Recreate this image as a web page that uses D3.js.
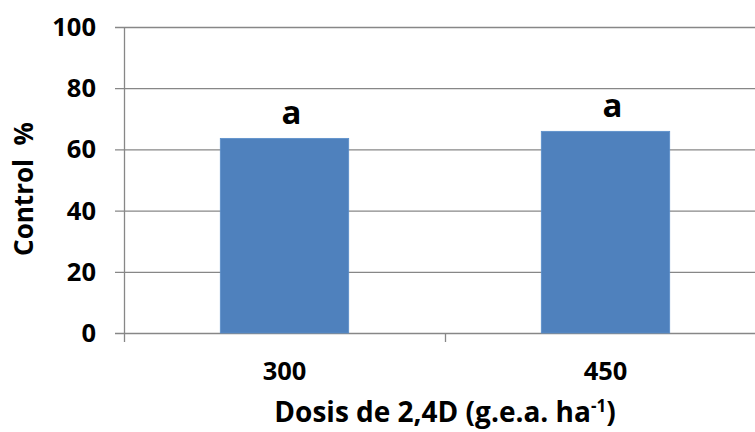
<!DOCTYPE html>
<html>
<head>
<meta charset="utf-8">
<script src="https://cdn.jsdelivr.net/npm/d3@7/dist/d3.min.js"></script>
<style>
  html, body { margin: 0; padding: 0; background: #fff; }
  svg { display: block; }
  text { font-family: "Open Sans", "Noto Sans", sans-serif; font-weight: 700; fill: #000; }
</style>
</head>
<body>
<svg id="chart" width="755" height="432"></svg>
<script>
const categories = ["300", "450"];
const values = [63.6, 65.9];
const letters = ["a", "a"];
const yTicks = [0, 20, 40, 60, 80, 100];
const yTitle = "Control  %";
const xTitleMain = "Dosis de 2,4D (g.e.a. ha";
const xTitleSup = "-1";
const xTitleEnd = ")";

const svg = d3.select("#chart");
const pLeft = 124, pRight = 766, pTop = 27, pBottom = 333;

const x = d3.scaleBand().domain(categories).range([pLeft, pRight]).paddingInner(0).paddingOuter(0);
const y = d3.scaleLinear().domain([0, 100]).range([pBottom, pTop]);
const barW = x.bandwidth() * 0.4;

// gridlines
svg.append("g").selectAll("line").data(yTicks).join("line")
  .attr("x1", pLeft - 9).attr("x2", 755)
  .attr("y1", d => y(d) + 0.5).attr("y2", d => y(d) + 0.5)
  .attr("stroke", "#878787").attr("stroke-width", 1.3);

// bars
svg.append("g").selectAll("rect").data(values).join("rect")
  .attr("x", (d, i) => x(categories[i]) + (x.bandwidth() - barW) / 2)
  .attr("y", d => y(d))
  .attr("width", barW)
  .attr("height", d => y(0) - y(d))
  .attr("fill", "#4F81BD")
  .attr("stroke", "#5B8FCB").attr("stroke-width", 0.8);

// y axis line
svg.append("line").attr("x1", pLeft + 0.5).attr("x2", pLeft + 0.5)
  .attr("y1", pTop).attr("y2", pBottom + 9)
  .attr("stroke", "#878787").attr("stroke-width", 1.3);

// x axis category boundary ticks
const bounds = categories.slice(1).map(c => x(c));
svg.append("g").selectAll("line").data(bounds).join("line")
  .attr("x1", d => d + 0.5).attr("x2", d => d + 0.5)
  .attr("y1", pBottom).attr("y2", pBottom + 9)
  .attr("stroke", "#878787").attr("stroke-width", 1.3);

// y tick labels
svg.append("g").selectAll("text").data(yTicks).join("text")
  .attr("x", 96).attr("y", d => y(d) + 9)
  .attr("text-anchor", "end")
  .style("font-size", "25.5px")
  .text(d => d);

// x tick labels
svg.append("g").selectAll("text").data(categories).join("text")
  .attr("x", d => x(d) + x.bandwidth() / 2)
  .attr("y", 380)
  .attr("text-anchor", "middle")
  .style("font-size", "25.5px")
  .text(d => d);

// letter labels
svg.append("g").selectAll("text").data(values).join("text")
  .attr("x", (d, i) => x(categories[i]) + x.bandwidth() / 2 + 7)
  .attr("y", d => y(d) - 14)
  .attr("text-anchor", "middle")
  .style("font-size", "33px")
  .text((d, i) => letters[i]);

// y title
svg.append("text")
  .attr("transform", "translate(33,189) rotate(-90)")
  .attr("text-anchor", "middle")
  .style("font-size", "26px")
  .attr("xml:space", "preserve")
  .text(yTitle);

// x title
const xt = svg.append("text")
  .attr("x", pLeft + (pRight - pLeft) / 2)
  .attr("y", 422)
  .attr("text-anchor", "middle")
  .style("font-size", "28px");
xt.append("tspan").text(xTitleMain);
xt.append("tspan").attr("dy", -10).style("font-size", "17px").text(xTitleSup);
xt.append("tspan").attr("dy", 10).text(xTitleEnd);
</script>
</body>
</html>
